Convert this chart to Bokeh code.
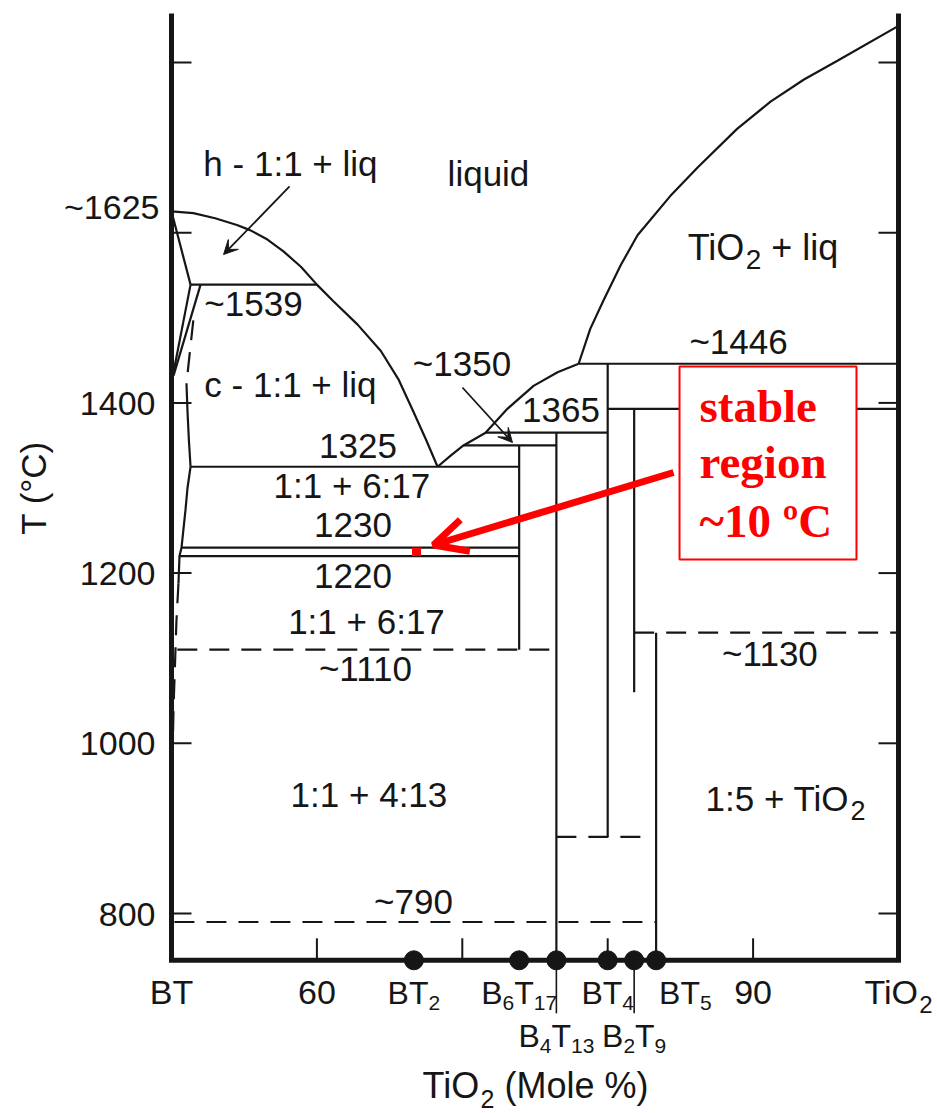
import re
import numpy as np
from bokeh.plotting import figure
from bokeh.models import Range1d, Arrow, OpenHead, VeeHead
from bokeh.core.properties import value
from bokeh.embed import file_html
from bokeh.resources import INLINE

# ---------------- BaTiO3 - TiO2 phase diagram (x: mol % TiO2, T: degC) ----------------
compound_names = ["BT2", "B6T17", "B4T13", "BT4", "B2T9", "BT5"]
compound_x = [66.67, 73.91, 76.47, 80.00, 81.82, 83.33]
compound_top = [None, 1350, 1365, 1446, 1393, 1130]
compound_bottom = [None, 1110, 745, 890, 1060, 745]

# liquidus, BaTiO3 side (down to the 1:1 / 6:17 eutectic)
liq_bt_x = [50.0, 51.5, 53.0, 54.5, 55.4, 56.6, 57.7, 58.9, 60.0, 61.1, 62.8, 64.4, 65.6, 66.6, 67.5, 68.3]
liq_bt_T = [1625, 1623, 1617, 1609, 1603, 1592, 1578, 1560, 1539, 1520, 1492, 1461, 1428, 1391, 1357, 1325]
# liquidus between the eutectic and the ~1446 peritectic
liq_mid_x = [68.3, 69.2, 70.08, 71.6, 73.1, 74.9, 76.55, 78.0]
liq_mid_T = [1325, 1338, 1350, 1365, 1393, 1420, 1436, 1446]
# TiO2 liquidus
liq_ti_x = [78.0, 78.8, 79.7, 80.9, 82.05, 84.3, 86.2, 88.9, 91.2, 93.5, 95.8, 100.0]
liq_ti_T = [1446, 1487, 1520, 1562, 1597, 1643, 1677, 1722, 1754, 1780, 1802, 1843]

# BaTiO3 solid-solution boundaries next to the 50 % edge
ss_solid = [
    ([50.0, 51.31], [1625, 1539]),
    ([51.31, 50.07], [1539, 1430]),
    ([52.0, 50.14], [1539, 1432]),
    ([51.03, 51.1, 51.2, 51.31], [1423, 1390, 1355, 1325]),
    ([51.31, 51.1, 50.96, 50.69, 50.55, 50.48], [1325, 1300, 1274, 1230, 1220, 1188]),
]
ss_dashed = [
    ([51.5, 51.03], [1497, 1423]),
    ([50.48, 50.34, 50.28, 50.14, 50.07], [1188, 1144, 1113, 1042, 980]),
]

# invariant temperatures
iso_T = [1539, 1446, 1393, 1365, 1350, 1325, 1230, 1220, 1130, 1110, 890, 790]
iso_x0 = [51.31, 78.0, 80.0, 71.6, 70.08, 51.31, 50.69, 50.55, 81.82, 50.40, 76.47, 50.20]
iso_x1 = [60.0, 100.0, 100.0, 80.0, 76.47, 73.91, 73.91, 73.91, 100.0, 76.47, 82.74, 83.33]
iso_dashed = [False, False, False, False, False, False, False, False, True, True, True, True]
iso_prefix = ["~", "~", None, "", "~", "", "", "", "~", "~", None, "~"]

y_ticks = [800, 1000, 1200, 1400, 1600, 1800]
y_tick_labels = ["800", "1000", "1200", "1400", "", ""]
bt_melting = 1625
x_ticks = [60, 70, 80, 90]
x_tick_labels = {50: "BT", 60: "60", 90: "90"}

stable_low, stable_high = 1220, 1230

# ---------------- page geometry ----------------
INK = "#161616"
RED = "#ff0000"
SANS = value("Liberation Sans")
SERIF = value("Liberation Serif")

W, H = 937, 1113
PX_PER_X = 14.54
PX_PER_T = 0.851
X_MIN = 50 - 171 / PX_PER_X
X_MAX = X_MIN + W / PX_PER_X
T_MAX = 1300 + 487.5 / PX_PER_T
T_MIN = T_MAX - H / PX_PER_T
AX_BOTTOM, AX_TOP = 745, 1857.5


def dT(px):
    return px / PX_PER_T


p = figure(width=W, height=H, x_range=Range1d(X_MIN, X_MAX), y_range=Range1d(T_MIN, T_MAX),
           output_backend="svg", toolbar_location=None, min_border=0,
           x_axis_location=None, y_axis_location=None)
p.grid.visible = False
p.outline_line_color = None
p.background_fill_color = "white"
p.border_fill_color = "white"

# Arial / Liberation Sans advance widths (per em)
ADV = {" ": .278, "(": .333, ")": .333, "%": .889, "+": .584, "-": .333, ":": .278, "~": .584,
       "\u00b0": .4, "B": .667, "T": .611, "O": .778, "M": .833, "C": .722,
       "a": .556, "b": .556, "c": .5, "d": .556, "e": .556, "g": .556, "h": .556, "i": .222,
       "l": .222, "n": .556, "o": .556, "q": .556, "r": .333, "s": .5, "t": .278, "u": .556}

MID = 0.35  # text anchors sit at the middle of the glyph box; baseline -> anchor shift (em)


def text_width(s, size):
    return sum(ADV.get(c, .556) for c in s) * size


def put(x, base, s, size, align="left", x_offset=0, font=SANS, color=INK, style="normal"):
    p.text(x=[x], y=[base + dT(MID * size)], text=[s], x_offset=x_offset, text_font=font,
           text_font_size=f"{size}px", text_font_style=style, text_color=color,
           text_align=align, text_baseline="alphabetic")


def rich(x, base, runs, size=35, sub_size=22, sub_drop=7, align="center", shift=0):
    widths = [text_width(s, sub_size if sub else size) for s, sub in runs]
    total = sum(widths)
    off = {"left": 0, "center": -total / 2, "right": -total}[align] + shift
    for (s, sub), w in zip(runs, widths):
        sz = sub_size if sub else size
        lead = len(s) - len(s.lstrip(" "))
        y = base - dT(sub_drop) if sub else base
        put(x, y, s.lstrip(" "), sz, x_offset=off + lead * ADV[" "] * sz)
        off += w


def formula_runs(name):
    return [(m, m.isdigit()) for m in re.findall(r"[A-Za-z]+|\d+", name)]


LW = 2.2
DASH = "20 12"

# liquidus curves
for xs, ts in [(liq_bt_x, liq_bt_T), (liq_mid_x, liq_mid_T), (liq_ti_x, liq_ti_T)]:
    p.line(xs, ts, line_color=INK, line_width=LW)

# solid-solution boundaries
for xs, ts in ss_solid:
    p.line(xs, ts, line_color=INK, line_width=LW)
for xs, ts in ss_dashed:
    p.line(xs, ts, line_color=INK, line_width=LW, line_dash=DASH)

# isotherms
for t, a, b, d in zip(iso_T, iso_x0, iso_x1, iso_dashed):
    p.line([a, b], [t, t], line_color=INK, line_width=LW, line_dash=DASH if d else "solid")

# compound lines
for cx, top, bot in zip(compound_x, compound_top, compound_bottom):
    if top is not None:
        p.line([cx, cx], [top, bot], line_color=INK, line_width=LW)

# frame, ticks
p.line([50, 50, 100, 100], [AX_TOP, AX_BOTTOM, AX_BOTTOM, AX_TOP], line_color=INK,
       line_width=5, line_join="miter")
p.ray(x=[50] * len(y_ticks), y=y_ticks, length=20, length_units="screen", angle=0,
      line_color=INK, line_width=2)
p.ray(x=[100] * len(y_ticks), y=y_ticks, length=20, length_units="screen", angle=np.pi,
      line_color=INK, line_width=2)
p.ray(x=x_ticks, y=[AX_BOTTOM] * len(x_ticks), length=22, length_units="screen",
      angle=np.pi / 2, line_color=INK, line_width=2)

# compound markers and leaders for the second label row
p.scatter(compound_x, [AX_BOTTOM] * len(compound_x), size=19, color=INK)
lower_row = ["B4T13", "B2T9"]
lead_x = [cx for n, cx in zip(compound_names, compound_x) if n in lower_row]
p.ray(x=lead_x, y=[AX_BOTTOM] * len(lead_x), length=53, length_units="screen",
      angle=-np.pi / 2, line_color=INK, line_width=1.6)

# y tick labels
for t, lab in zip(y_ticks, y_tick_labels):
    if lab:
        put(50, t - dT(12.5), lab, 34, align="right", x_offset=-16)
put(50, bt_melting - dT(7), f"~{bt_melting}", 34, align="right", x_offset=-12)

# x tick labels
row1 = AX_BOTTOM - dT(44)
row2 = AX_BOTTOM - dT(87)
for xv, lab in x_tick_labels.items():
    put(xv, row1, lab, 34, align="center")
rich(100, row1, formula_runs("TiO2"), size=34, sub_size=24, sub_drop=9)
for n, cx in zip(compound_names, compound_x):
    if n in lower_row:
        rich(cx, row2, formula_runs(n), size=32, sub_size=21, sub_drop=6)
    elif n == "BT5":
        rich(cx, row1, formula_runs(n), size=32, sub_size=21, sub_drop=6, align="left", shift=3)
    else:
        rich(cx, row1, formula_runs(n), size=32, sub_size=21, sub_drop=6)

# axis titles
p.text(x=[50 - 138 / PX_PER_X], y=[1300], text=["T (\u00b0C)"], angle=np.pi / 2,
       text_font=SANS, text_font_size="35px", text_color=INK, text_align="center",
       text_baseline="alphabetic")
rich(50 + (535 - 171) / PX_PER_X, T_MAX - dT(1098),
     [("TiO", False), ("2", True), (" (Mole %)", False)], size=36, sub_size=25, sub_drop=9)

# isotherm labels (center x, baseline offset in px above the line)
iso_label_pos = {1539: (55.64, -31), 1446: (89.0, 10), 1365: (76.79, 10.5), 1350: (69.98, 70),
                 1325: (62.83, 8), 1230: (62.48, 10), 1220: (62.48, -32), 1130: (91.16, -33),
                 1110: (63.34, -31), 790: (66.64, 8)}
for t, pre in zip(iso_T, iso_prefix):
    if pre is None:
        continue
    cx, off = iso_label_pos[t]
    put(cx, t + dT(off), f"{pre}{t}", 35, align="center")

# field labels
put(58.18, 1667.2, "h - 1:1 + liq", 35, align="center")
put(71.80, 1655.5, "liquid", 35, align="center")
put(58.18, 1406.7, "c - 1:1 + liq", 35, align="center")
put(62.41, 1288.8, "1:1 + 6:17", 35, align="center")
put(63.41, 1129.0, "1:1 + 6:17", 35, align="center")
put(63.58, 924.9, "1:1 + 4:13", 35, align="center")
rich(90.68, 1567.3, [("TiO", False), ("2", True), (" + liq", False)], size=36, sub_size=28, sub_drop=9)
rich(92.23, 921.0, [("1:5 + TiO", False), ("2", True)], size=35, sub_size=27, sub_drop=9)

# pointer arrows
for xs, ys, xe, ye in [(58.12, 1654.3, 53.58, 1574.4), (70.01, 1418.1, 73.45, 1353.5)]:
    p.add_layout(Arrow(end=VeeHead(size=14, fill_color=INK, line_color=INK, line_width=1),
                       x_start=xs, y_start=ys, x_end=xe, y_end=ye,
                       line_color=INK, line_width=1.8))

# highlighted stable window between the 1230 and 1220 invariants
p.quad(left=[84.94], right=[97.11], bottom=[1216.0], top=[1442.8], fill_color="white",
       line_color=RED, line_width=2)
for s, ty in [("stable", 1377.3), ("region", 1311.2), ("~10 \u00baC", 1242.2)]:
    p.text(x=[86.31], y=[ty + dT(0.34 * 47)], text=[s], text_font=SERIF, text_font_style="bold",
           text_font_size="47px", text_color=RED, text_align="left", text_baseline="alphabetic")
p.add_layout(Arrow(end=OpenHead(size=33, line_color=RED, line_width=7),
                   x_start=84.53, y_start=1318.2, x_end=68.02, y_end=1233.0,
                   line_color=RED, line_width=7))
p.segment(x0=[66.85], y0=[stable_low], x1=[66.85], y1=[stable_high], line_color=RED,
          line_width=9, line_cap="butt")

open("out.html", "w").write(file_html(p, INLINE))
